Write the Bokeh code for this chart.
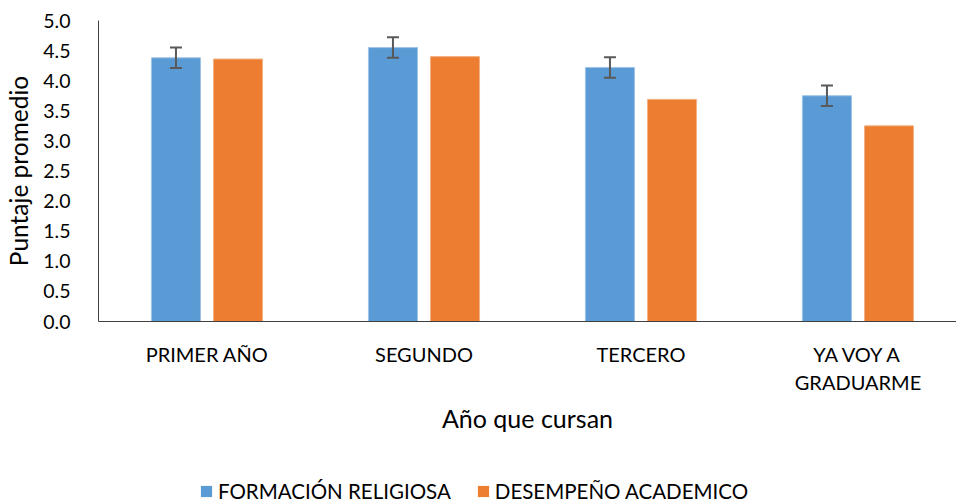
from bokeh.plotting import figure
from bokeh.layouts import column
from bokeh.models import (ColumnDataSource, FixedTicker, Whisker, TeeHead, Legend, LegendItem)
from bokeh.embed import file_html
from bokeh.resources import INLINE

categories = ["PRIMER AÑO", "SEGUNDO", "TERCERO", "YA VOY A\nGRADUARME"]
formacion = [4.38, 4.55, 4.22, 3.75]
formacion_err = [0.17, 0.17, 0.17, 0.17]
desempeno = [4.36, 4.40, 3.69, 3.25]
series_names = ["FORMACIÓN RELIGIOSA", "DESEMPEÑO ACADEMICO"]
y_ticks = [0.0, 0.5, 1.0, 1.5, 2.0, 2.5, 3.0, 3.5, 4.0, 4.5, 5.0]

BLUE = "#5B9BD5"
ORANGE = "#ED7D31"
FONT = "Lato"

centers = [i + 0.5 for i in range(len(categories))]
off = 0.143
bw = 0.226

src_f = ColumnDataSource(dict(x=[c - off for c in centers], top=formacion,
                              upper=[v + e for v, e in zip(formacion, formacion_err)],
                              lower=[v - e for v, e in zip(formacion, formacion_err)]))
src_d = ColumnDataSource(dict(x=[c + off for c in centers], top=desempeno))

p = figure(width=956, height=470, output_backend="svg", toolbar_location=None,
           x_range=(0, 3.954), y_range=(0, 5.0),
           min_border_left=98, min_border_right=0, min_border_top=20, min_border_bottom=149)
p.outline_line_color = None
p.grid.visible = False

r1 = p.vbar(x="x", top="top", width=bw, source=src_f, fill_color=BLUE, line_color="#9DC3E6", line_width=1)
r2 = p.vbar(x="x", top="top", width=bw, source=src_d, fill_color=ORANGE, line_color="#F4B183", line_width=1)

wh = Whisker(source=src_f, base="x", upper="upper", lower="lower", line_color="#595959", line_width=2,
             upper_head=TeeHead(size=12, line_color="#595959", line_width=2),
             lower_head=TeeHead(size=12, line_color="#595959", line_width=2))
wh.level = "overlay"
p.add_layout(wh)

# y axis
p.yaxis.ticker = FixedTicker(ticks=y_ticks)
p.yaxis.major_label_overrides = {t: f"{t:.1f}" for t in y_ticks}
p.yaxis.major_tick_line_color = None
p.yaxis.minor_tick_line_color = None
p.yaxis.axis_line_color = "#404040"
p.yaxis.major_label_standoff = 22
p.yaxis.major_label_text_font = FONT
p.yaxis.major_label_text_font_size = "19.5px"
p.yaxis.major_label_text_color = "#000000"
p.yaxis.axis_label = "Puntaje promedio"
p.yaxis.axis_label_text_font = FONT
p.yaxis.axis_label_text_font_size = "24.5px"
p.yaxis.axis_label_text_font_style = "normal"
p.yaxis.axis_label_text_color = "#000000"
p.yaxis.axis_label_standoff = 7

# x axis
p.xaxis.ticker = FixedTicker(ticks=centers)
p.xaxis.major_label_overrides = {c: lab for c, lab in zip(centers, categories)}
p.xaxis.major_tick_line_color = None
p.xaxis.minor_tick_line_color = None
p.xaxis.axis_line_color = "#404040"
p.xaxis.major_label_standoff = 14
p.xaxis.major_label_text_font = FONT
p.xaxis.major_label_text_font_size = "20px"
p.xaxis.major_label_text_color = "#000000"
p.xaxis.axis_label = "Año que cursan"
p.xaxis.axis_label_text_font = FONT
p.xaxis.axis_label_text_font_size = "25px"
p.xaxis.axis_label_text_font_style = "normal"
p.xaxis.axis_label_text_color = "#000000"
p.xaxis.axis_label_standoff = 6

# legend strip below the chart
pl = figure(width=956, height=33, output_backend="svg", toolbar_location=None,
            x_range=(0, 1), y_range=(0, 1),
            min_border_left=0, min_border_right=0, min_border_top=0, min_border_bottom=0)
pl.axis.visible = False
pl.grid.visible = False
pl.outline_line_color = None
dummy = ColumnDataSource(dict(x=[-5.0], top=[-5.0]))
l1 = pl.vbar(x="x", top="top", width=0.1, source=dummy, fill_color=BLUE, line_color=None)
l2 = pl.vbar(x="x", top="top", width=0.1, source=dummy, fill_color=ORANGE, line_color=None)
legend = Legend(items=[LegendItem(label=series_names[0], renderers=[l1]),
                       LegendItem(label=series_names[1], renderers=[l2])],
                orientation="horizontal", location=(101, 0),
                glyph_width=14, glyph_height=14, spacing=25, label_standoff=5,
                label_text_font=FONT, label_text_font_size="20.5px", label_text_color="#000000",
                border_line_color=None, background_fill_alpha=0, padding=0, margin=0)
pl.add_layout(legend)

open("out.html", "w").write(file_html(column(p, pl, spacing=0), INLINE))
